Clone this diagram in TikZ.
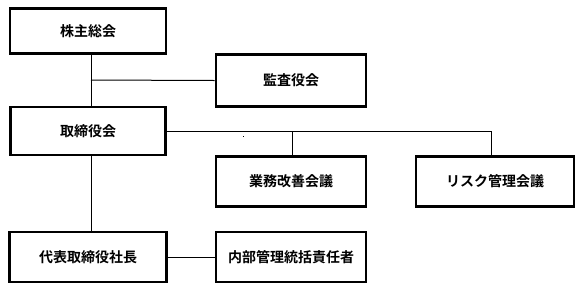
\documentclass[tikz,border=0pt]{standalone}
\usepackage{fontspec}
\newfontfamily\jp[BoldFont={Noto Sans CJK JP Bold}]{Noto Sans CJK JP}
\begin{document}
\begin{tikzpicture}[x=1pt,y=-1pt,
  orgbox/.style={draw=black,line width=2.6pt,minimum width=#1,minimum height=50pt,inner sep=0pt,font=\jp\bfseries\fontsize{14}{16}\selectfont},
  orgbox/.default=156pt,
  link/.style={draw=black,line width=1pt}]
\useasboundingbox (0,0) rectangle (584,293);
\node[orgbox=156pt,minimum height=45pt] (soukai) at (88,31) {株主総会};
\node[orgbox=150pt,minimum height=52pt] (kansa) at (291,80.5) {監査役会};
\node[orgbox=155pt,minimum height=48pt] (torishimari) at (88,131) {取締役会};
\node[orgbox=150pt,minimum height=50pt] (gyomu) at (291,181.5) {業務改善会議};
\node[orgbox=158pt,minimum height=50pt] (risk) at (495,181.5) {リスク管理会議};
\node[orgbox=157pt,minimum height=50pt] (shacho) at (88,257) {代表取締役社長};
\node[orgbox=150pt,minimum height=50pt] (naibu) at (291,257) {内部管理統括責任者};
\coordinate (j1) at (91,80);
\coordinate (j2) at (292,131);
\coordinate (j3) at (491,131);
\draw[link] (soukai.south -| j1) -- (torishimari.north -| j1);
\draw[link] (j1) -- (kansa.west);
\draw[link] (torishimari.east |- j2) -- (j3) -- (risk.north -| j3);
\draw[link] (j2) -- (gyomu.north -| j2);
\draw[link] (torishimari.south -| j1) -- (shacho.north -| j1);
\draw[link] (shacho.east) -- (naibu.west);
\fill[black] (242.5,135.5) rectangle (243.5,136.5);
\end{tikzpicture}
\end{document}
